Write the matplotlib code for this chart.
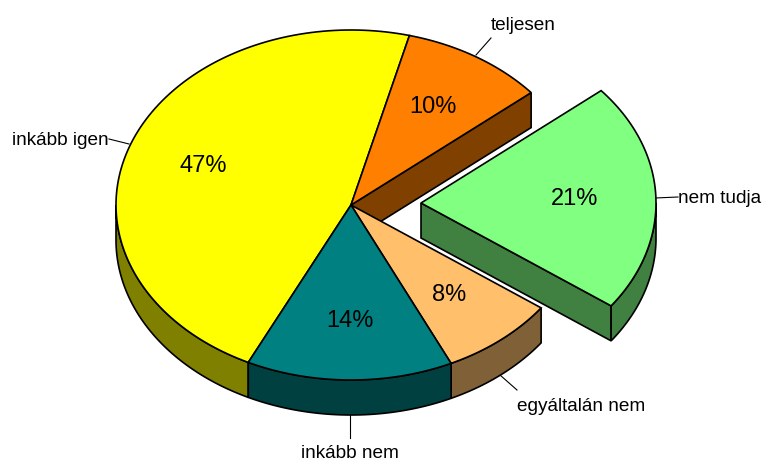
import numpy as np
import matplotlib
matplotlib.use('Agg')
import matplotlib.pyplot as plt

# clockwise from the orange slice, start angle measured clockwise from 12 o'clock
labels = ['teljesen', 'nem tudja', 'egyáltalán nem', 'inkább nem', 'inkább igen']
values = [9.9, 21.1, 8.0, 14.2, 46.8]
top_colors = ['#FF8000', '#80FF80', '#FFBF6B', '#008080', '#FFFF00']
side_colors = ['#804000', '#408040', '#806036', '#004040', '#808000']
explode_x = [0, 70, 0, 0, 0]
explode_y = [0, -2, 0, 0, 0]
start_angle = 14.4

cx, cy = 351.0, 205.0
rx, ry = 235.0, 175.0
depth = 35.0

fig = plt.figure(figsize=(7.63, 4.61), dpi=100)
ax = fig.add_axes([0, 0, 1, 1])
ax.set_xlim(0, 763)
ax.set_ylim(461, 0)
ax.axis('off')


def rim(a0, a1, ox=0.0, oy=0.0):
    t = np.radians(np.linspace(a0, a1, 120))
    return cx + ox + rx * np.sin(t), cy + oy - ry * np.cos(t)


def draw_slice(i, a0, a1, z):
    ox, oy = explode_x[i], explode_y[i]
    x, y = rim(a0, a1, ox, oy)
    ax0, ay0 = cx + ox, cy + oy

    # cut face on the clockwise end, seen only on the right half
    if 0 < a1 < 180:
        ex, ey = x[-1], y[-1]
        ax.fill([ax0, ex, ex, ax0], [ay0, ey, ey + depth, ay0 + depth],
                fc=side_colors[i], ec='black', lw=1.2, zorder=z)

    # outer wall, only the part facing the viewer (90..270 deg)
    lo, hi = max(a0, 90), min(a1, 270)
    if hi > lo:
        wx, wy = rim(lo, hi, ox, oy)
        ax.fill(np.r_[wx, wx[::-1]], np.r_[wy, wy[::-1] + depth],
                fc=side_colors[i], ec='black', lw=1.2, zorder=z)

    ax.fill(np.r_[ax0, x], np.r_[ay0, y], fc=top_colors[i], ec='black',
            lw=1.2, zorder=z)


# back to front
order = [4, 0, 1, 2, 3]
edges = start_angle + np.r_[0, np.cumsum(values)] * 3.6
for z, i in enumerate(order):
    draw_slice(i, edges[i], edges[i + 1], z + 1)

# percent labels
pct_x = [433, 575, 449, 350, 203]
pct_y = [107, 199, 295, 321, 166]
for v, px, py in zip(values, pct_x, pct_y):
    ax.text(px, py, f'{v:.0f}%', ha='center', va='center', fontsize=17,
            family='Liberation Sans', color='black', zorder=10)

# outer labels with leader lines
lab_x = [491, 678, 517, 301, 12]
lab_y = [25, 198, 406, 453, 140]
lead_x = [[476, 491], [655, 678], [500, 517], [350, 350], [109, 129]]
lead_y = [[55, 38], [198, 197], [375, 390], [415, 438], [139, 144]]
for j, name in enumerate(labels):
    ax.text(lab_x[j], lab_y[j], name, ha='left', va='center', fontsize=13.7,
            family='Liberation Sans', color='black', zorder=10)
    ax.plot(lead_x[j], lead_y[j], color='black', lw=0.8, zorder=0)

fig.savefig('out.png', dpi=100, facecolor='white')
